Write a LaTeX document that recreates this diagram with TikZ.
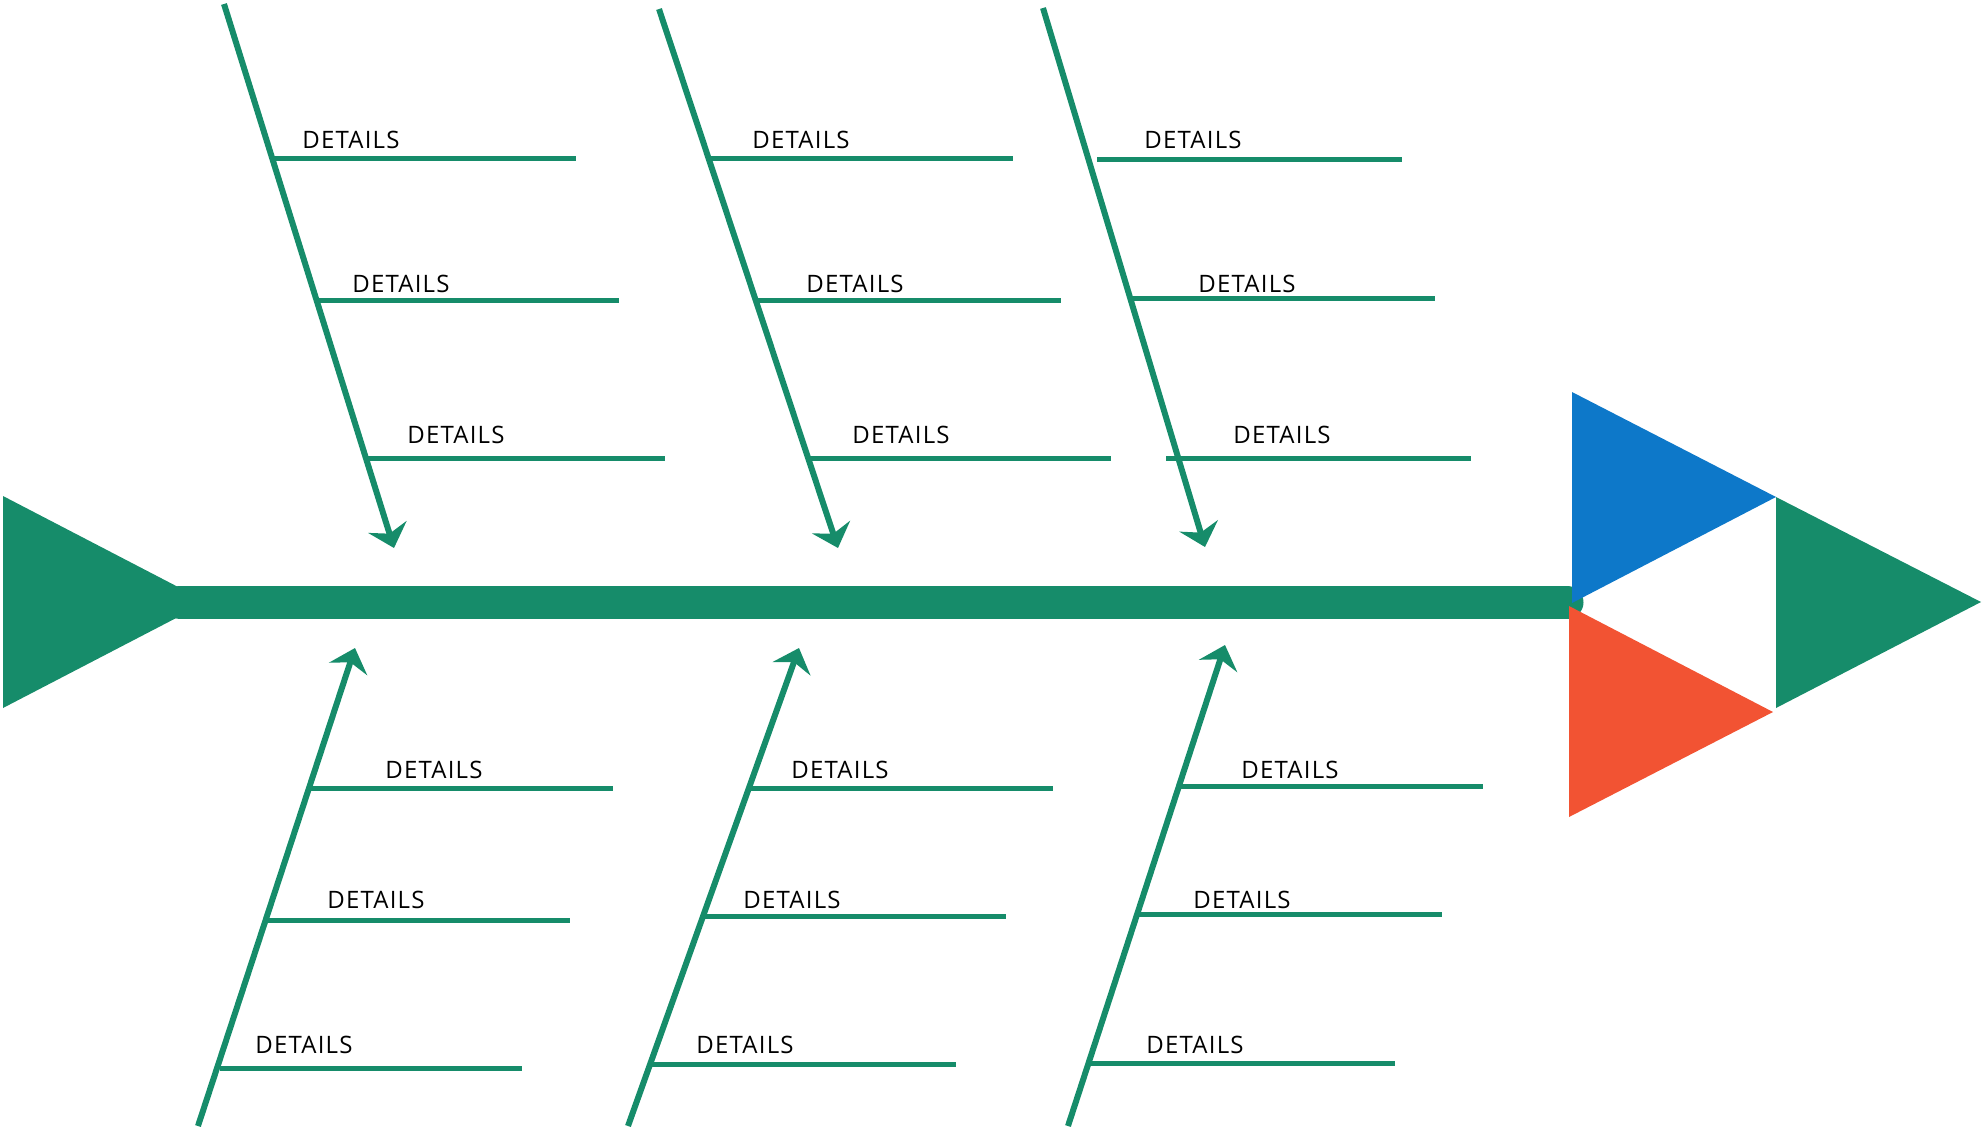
\documentclass[tikz,border=0pt]{standalone}
\usepackage{fontspec}
\setmainfont{Open Sans}
\usetikzlibrary{arrows.meta}
\definecolor{fishgreen}{RGB}{22,140,106}
\definecolor{fishblue}{RGB}{13,120,201}
\definecolor{fishred}{RGB}{242,83,51}

\begin{document}
\begin{tikzpicture}[
		x=1pt,
		y=-1pt,
		line cap=butt
	]
		\tikzstyle{bone}=[
			draw=fishgreen,
			line width=6pt,
			-{Stealth[length=22pt,width=40pt,inset=7pt]}
		]
		\tikzstyle{rib}=[
			draw=fishgreen,
			line width=5pt
		]
		\tikzstyle{detail}=[
			font=\fontsize{24}{28}\selectfont\addfontfeature{LetterSpace=5},
			inner sep=0pt
		]

		\useasboundingbox (0,0) rectangle (1982,1133);

		% tail, spine and head
		\fill[fishgreen] (3,496) -- (207,602) -- (3,708) -- cycle;
		\draw[fishgreen, line width=33pt, line cap=round] (180,602) -- (1567,602);
		\fill[fishblue] (1572,392) -- (1776,497) -- (1572,603) -- cycle;
		\fill[fishred] (1569,606) -- (1773,712) -- (1569,817) -- cycle;
		\fill[fishgreen] (1776,497) -- (1981,602) -- (1776,708) -- cycle;

		% bones
		\coordinate (b1s) at (224,4);
		\coordinate (b1e) at (394,548);
		\coordinate (b2s) at (659,9);
		\coordinate (b2e) at (838,548);
		\coordinate (b3s) at (1043,8);
		\coordinate (b3e) at (1205,547);
		\coordinate (b4s) at (198,1126);
		\coordinate (b4e) at (355,648);
		\coordinate (b5s) at (628,1126);
		\coordinate (b5e) at (799,648);
		\coordinate (b6s) at (1068,1126);
		\coordinate (b6e) at (1225,645);
		\draw[bone] (b1s) -- (b1e);
		\draw[bone] (b2s) -- (b2e);
		\draw[bone] (b3s) -- (b3e);
		\draw[bone] (b4s) -- (b4e);
		\draw[bone] (b5s) -- (b5e);
		\draw[bone] (b6s) -- (b6e);

		% ribs, top
		\draw[rib] (273,158) -- (576,158);
		\draw[rib] (319,300) -- (619,300);
		\draw[rib] (367,458) -- (665,458);
		\draw[rib] (710,158) -- (1013,158);
		\draw[rib] (757,300) -- (1061,300);
		\draw[rib] (810,458) -- (1111,458);
		\draw[rib] (1097,159) -- (1402,159);
		\draw[rib] (1133,298) -- (1435,298);
		\draw[rib] (1166,458) -- (1471,458);
		% ribs, bottom
		\draw[rib] (311,788) -- (613,788);
		\draw[rib] (268,920) -- (570,920);
		\draw[rib] (220,1068) -- (522,1068);
		\draw[rib] (751,788) -- (1053,788);
		\draw[rib] (704,916) -- (1006,916);
		\draw[rib] (652,1064) -- (956,1064);
		\draw[rib] (1178,786) -- (1483,786);
		\draw[rib] (1138,914) -- (1442,914);
		\draw[rib] (1090,1063) -- (1395,1063);

		% labels
		\node[detail] (d11) at (351,140) {DETAILS};
		\node[detail] (d12) at (401,284) {DETAILS};
		\node[detail] (d13) at (456,435) {DETAILS};
		\node[detail] (d21) at (801,140) {DETAILS};
		\node[detail] (d22) at (855,284) {DETAILS};
		\node[detail] (d23) at (901,435) {DETAILS};
		\node[detail] (d31) at (1193,140) {DETAILS};
		\node[detail] (d32) at (1247,284) {DETAILS};
		\node[detail] (d33) at (1282,435) {DETAILS};
		\node[detail] (d41) at (434,770) {DETAILS};
		\node[detail] (d42) at (376,900) {DETAILS};
		\node[detail] (d43) at (304,1045) {DETAILS};
		\node[detail] (d51) at (840,770) {DETAILS};
		\node[detail] (d52) at (792,900) {DETAILS};
		\node[detail] (d53) at (745,1045) {DETAILS};
		\node[detail] (d61) at (1290,770) {DETAILS};
		\node[detail] (d62) at (1242,900) {DETAILS};
		\node[detail] (d63) at (1195,1045) {DETAILS};
\end{tikzpicture}
\end{document}
